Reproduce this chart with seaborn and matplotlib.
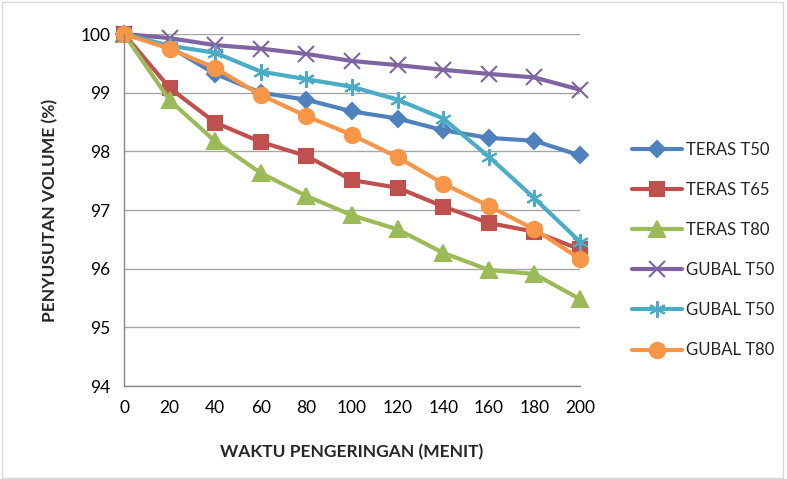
import matplotlib
matplotlib.use('Agg')
import matplotlib.pyplot as plt
import seaborn as sns

# Data
waktu = [0, 20, 40, 60, 80, 100, 120, 140, 160, 180, 200]
teras_t50 = [100, 99.78, 99.32, 99.0, 98.88, 98.68, 98.56, 98.36, 98.23, 98.18, 97.93]
teras_t65 = [100, 99.08, 98.49, 98.16, 97.92, 97.51, 97.38, 97.06, 96.78, 96.63, 96.33]
teras_t80 = [100, 98.87, 98.17, 97.63, 97.24, 96.91, 96.67, 96.27, 95.98, 95.91, 95.48]
gubal_t50a = [100, 99.93, 99.81, 99.75, 99.66, 99.54, 99.47, 99.39, 99.32, 99.26, 99.05]
gubal_t50b = [100, 99.8, 99.68, 99.36, 99.23, 99.1, 98.88, 98.56, 97.91, 97.2, 96.46]
gubal_t80 = [100, 99.75, 99.42, 98.96, 98.6, 98.28, 97.9, 97.45, 97.07, 96.67, 96.17]

series_labels = ['TERAS T50', 'TERAS T65', 'TERAS T80', 'GUBAL T50', 'GUBAL T50', 'GUBAL T80']
series_values = [teras_t50, teras_t65, teras_t80, gubal_t50a, gubal_t50b, gubal_t80]
colors = ['#4F81BD', '#C0504D', '#9BBB59', '#8064A2', '#4BACC6', '#F79646']
markers = ['D', 's', '^', 'x', (6, 2, 0), 'o']
msizes = [8, 10, 11, 11, 12, 11]

y_ticks = [94, 95, 96, 97, 98, 99, 100]

sns.set_theme(style='white')
plt.rcParams['font.family'] = ['Lato', 'DejaVu Sans']

fig = plt.figure(figsize=(7.87, 4.79), dpi=100)
ax = fig.add_axes([0.1576, 0.194, 0.5794, 0.735])

for label, vals, c, m, ms in zip(series_labels, series_values, colors, markers, msizes):
    sns.lineplot(x=waktu, y=vals, ax=ax, color=c, linewidth=3, label=label,
                 marker=m, markersize=ms, markeredgecolor=c, markeredgewidth=1.5)

ax.set_xlim(0, 200)
ax.set_ylim(94, 100)
ax.set_xticks(waktu)
ax.set_yticks(y_ticks)
ax.yaxis.grid(True, color='#A6A6A6', linewidth=1)
ax.set_axisbelow(True)
for side in ['top', 'right']:
    ax.spines[side].set_visible(False)
for side in ['left', 'bottom']:
    ax.spines[side].set_color('#888888')
    ax.spines[side].set_linewidth(1)
ax.tick_params(axis='both', which='both', direction='out', length=6, width=1,
               color='#888888', labelsize=12.5, labelcolor='black', pad=4)
for line in ax.lines:
    line.set_clip_on(False)

ax.set_xlabel('WAKTU PENGERINGAN (MENIT)', fontsize=12.5, fontweight='bold', labelpad=20)
ax.set_ylabel('PENYUSUTAN VOLUME (%)', fontsize=12.5, fontweight='bold', labelpad=16)

ax.legend(loc='center left', bbox_to_anchor=(0.795, 0.478), bbox_transform=fig.transFigure,
          frameon=False, fontsize=12, labelspacing=1.45, handlelength=3.0,
          handletextpad=0.2, borderaxespad=0)

# light border like the original screenshot
fig.patches.append(plt.Rectangle((0.002, 0.003), 0.993, 0.993, transform=fig.transFigure,
                                 fill=False, edgecolor='#D9D9D9', linewidth=1))

plt.savefig('out.png', dpi=100)
plt.close()
